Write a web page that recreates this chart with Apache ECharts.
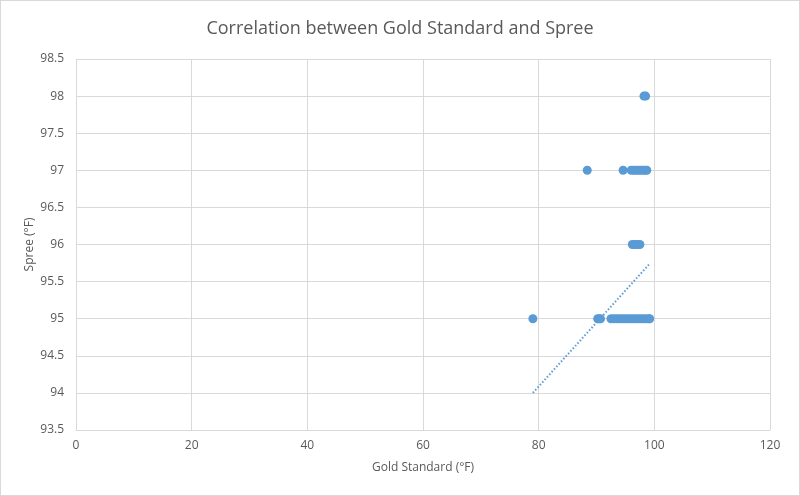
<!DOCTYPE html>
<html><head><meta charset="utf-8">
<script src="https://cdn.jsdelivr.net/npm/echarts@6/dist/echarts.min.js"></script>
<style>html,body{margin:0;padding:0;background:#fff}#c{width:800px;height:496px;box-sizing:border-box;border:1px solid #d9d9d9}</style>
</head><body><div id="c"></div>
<script>
const titleText = 'Correlation between Gold Standard and Spree';
const xName = 'Gold Standard (°F)';
const yName = 'Spree (°F)';
// Gold Standard x-values for each Spree level
const x95 = [79, 90.2, 90.5, 90.7, 92.5, 93, 93.5, 94, 94.5, 95, 95.5, 96, 96.5, 97, 97.5, 98, 98.5, 99, 99.2];
const x96 = [96.2, 96.6, 97, 97.5];
const x97 = [88.4, 94.6, 96.0, 96.4, 96.8, 97.2, 97.6, 98, 98.4, 98.7];
const x98 = [98.2, 98.5];
const trendX = [79, 99.3];
const trendY = [94.0, 95.75];

const pts = [];
x95.forEach(v => pts.push([v, 95]));
x96.forEach(v => pts.push([v, 96]));
x97.forEach(v => pts.push([v, 97]));
x98.forEach(v => pts.push([v, 98]));

const font = 'Open Sans, Liberation Sans, sans-serif';
const chart = echarts.init(document.getElementById('c'));
chart.setOption({
  animation: false,
  title: { text: titleText, left: 'center', top: 14,
    textStyle: { fontFamily: font, fontSize: 18, fontWeight: 'normal', color: '#595959' } },
  grid: { left: 75, right: 29, top: 58, bottom: 65 },
  xAxis: { type: 'value', min: 0, max: 120, interval: 20,
    name: xName, nameLocation: 'middle', nameGap: 32,
    nameTextStyle: { fontFamily: font, fontSize: 12, color: '#595959' },
    axisLine: { show: true, lineStyle: { color: '#d9d9d9' } }, axisTick: { show: false },
    axisLabel: { fontFamily: font, fontSize: 12, color: '#595959', margin: 10 },
    splitLine: { show: true, lineStyle: { color: '#d9d9d9' } } },
  yAxis: { type: 'value', min: 93.5, max: 98.5, interval: 0.5,
    name: yName, nameLocation: 'middle', nameGap: 40, nameMoveOverlap: false,
    nameTextStyle: { fontFamily: font, fontSize: 12, color: '#595959' },
    axisLine: { show: true, lineStyle: { color: '#d9d9d9' } }, axisTick: { show: false },
    axisLabel: { fontFamily: font, fontSize: 12, color: '#595959', margin: 12 },
    splitLine: { show: true, lineStyle: { color: '#d9d9d9' } } },
  series: [
    { type: 'scatter', data: pts, symbolSize: 9, itemStyle: { color: '#5b9bd5', opacity: 1 } },
    { type: 'line', data: trendX.map((v, i) => [v, trendY[i]]), symbol: 'none',
      lineStyle: { color: '#5b9bd5', width: 2, type: [1.5, 2] } }
  ]
});
</script></body></html>
